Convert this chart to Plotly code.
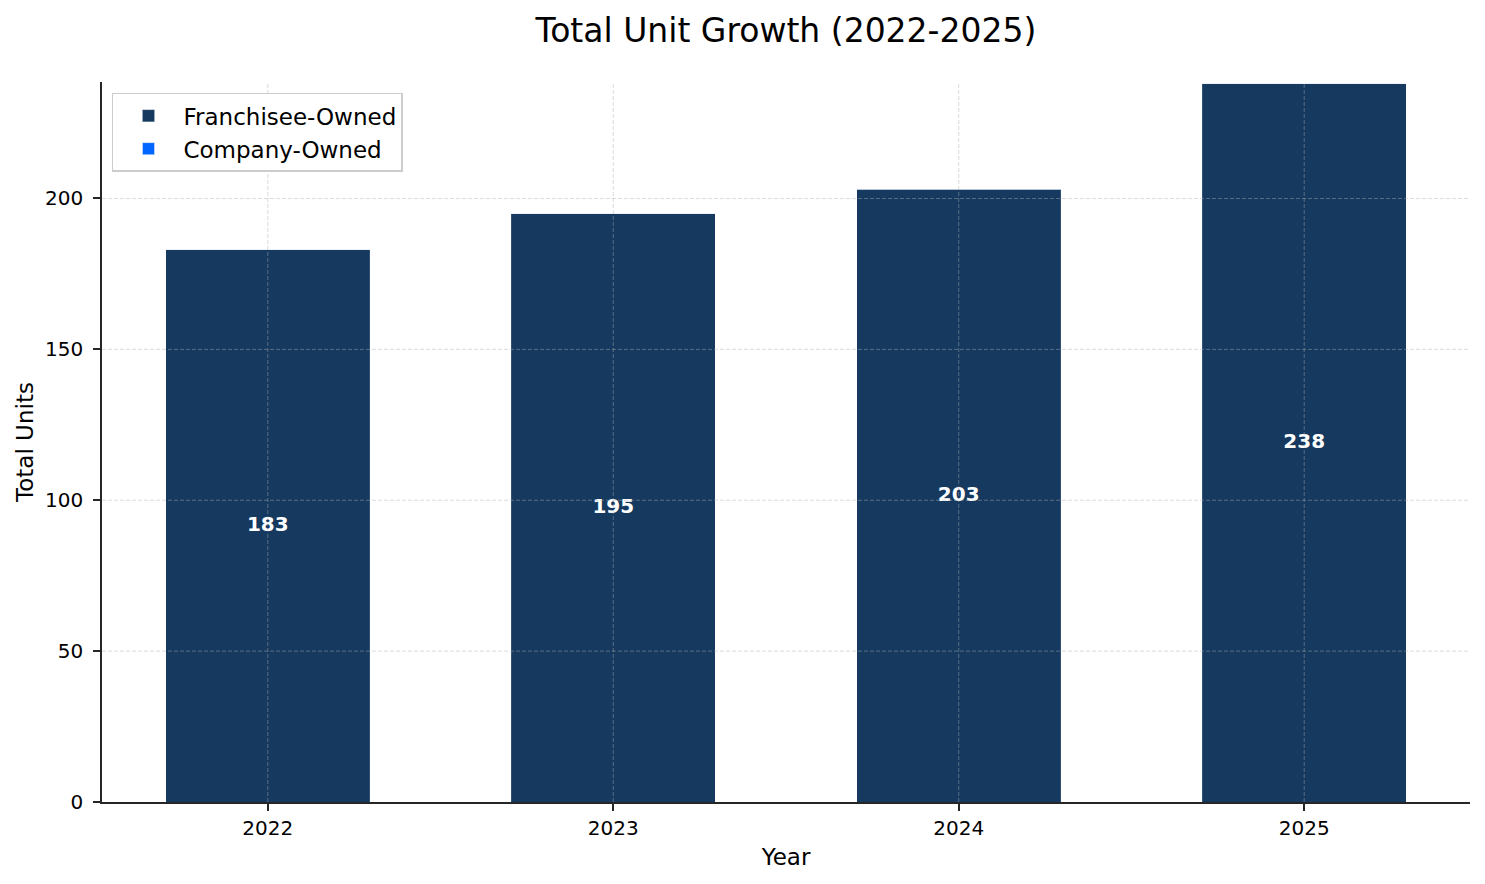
import plotly.graph_objects as go

years = ['2022', '2023', '2024', '2025']
franchisee_owned = [183, 195, 203, 238]
company_owned = [0, 0, 0, 0]
totals = [f + c for f, c in zip(franchisee_owned, company_owned)]
y_ticks = [0, 50, 100, 150, 200]

fig = go.Figure()
fig.add_bar(x=years, y=franchisee_owned, name='Franchisee-Owned', width=0.59,
            marker=dict(color='#15395f', line=dict(color='rgba(255,255,255,0.12)', width=1)))
fig.add_bar(x=years, y=company_owned, name='Company-Owned', width=0.59,
            marker=dict(color='#0066ff'))

# total labels in the middle of each bar
fig.add_scatter(x=years, y=[t / 2 for t in totals], mode='text', text=[str(t) for t in totals],
                textfont=dict(color='white', size=20, family='DejaVu Sans', weight='bold'),
                showlegend=False, hoverinfo='skip')

# dashed grid drawn above the bars, like the original
grid_style = dict(color='rgba(176,176,176,0.45)', width=1, dash='4px,2px')
for t in y_ticks[1:]:
    fig.add_shape(type='line', xref='paper', x0=0, x1=1, y0=t, y1=t, line=grid_style, layer='above')
for i, yr in enumerate(years):
    fig.add_shape(type='line', xref='x', yref='paper', x0=i, x1=i, y0=0, y1=1, line=grid_style, layer='above')

axis_common = dict(showline=True, linecolor='#262626', linewidth=1.5, ticks='outside', ticklen=7,
                   tickwidth=1.5, tickcolor='#262626', showgrid=False, zeroline=False,
                   tickfont=dict(size=20, color='black'))

fig.update_xaxes(type='category', range=[-0.48, 3.48], ticklabelstandoff=0,
                 title=dict(text='Year', font=dict(size=23, color='black'), standoff=10),
                 **axis_common)
fig.update_yaxes(range=[0, 238.6], tickvals=y_ticks, ticklabelstandoff=6,
                 title=dict(text='Total Units', font=dict(size=23, color='black'), standoff=5),
                 **axis_common)

# the page has an 8px body margin, so the margins are shifted to compensate
fig.update_layout(
    barmode='stack', width=1485, height=884,
    title=dict(text='Total Unit Growth (2022-2025)', x=0.5, xref='paper', xanchor='center',
               y=1 - 22 / 884, yanchor='middle', yref='container', font=dict(size=33, color='black')),
    font=dict(family='DejaVu Sans', color='black'),
    plot_bgcolor='white', paper_bgcolor='white',
    margin=dict(l=94, r=23, t=74, b=90),
    legend=dict(x=0.0073, y=0.985, xanchor='left', yanchor='top', bgcolor='white', bordercolor='#cccccc',
                borderwidth=1.5, font=dict(size=23, color='black'), traceorder='normal', itemwidth=60),
)

fig.write_html("out.html")
